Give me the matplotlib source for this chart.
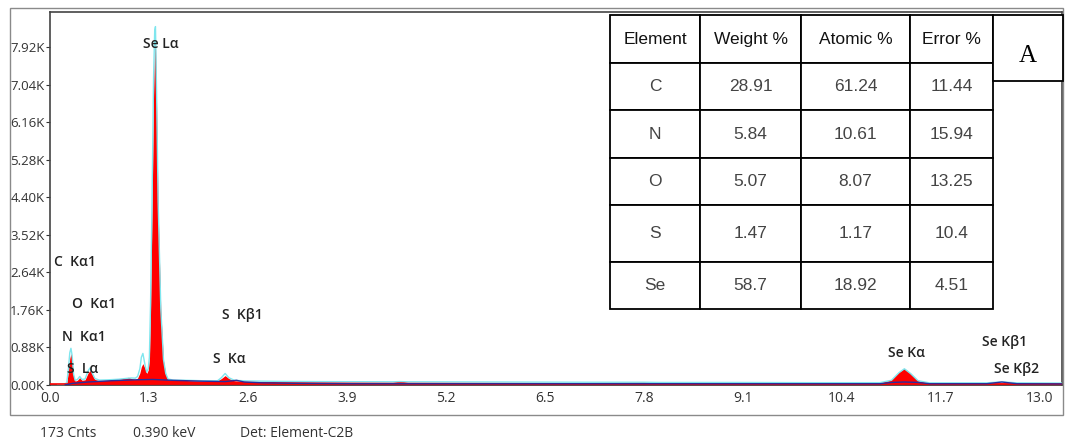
import matplotlib.pyplot as plt
from matplotlib.patches import Rectangle

# EDS spectrum (keV, counts)
energy = [0.10, 0.18, 0.22, 0.24, 0.26, 0.275, 0.29, 0.31, 0.33, 0.36, 0.39, 0.42, 0.46,
          0.50, 0.525, 0.55, 0.59, 0.65, 0.75, 0.90, 0.98, 1.03, 1.07, 1.12, 1.15, 1.18,
          1.20, 1.22, 1.25, 1.27, 1.29, 1.305, 1.32, 1.34, 1.36, 1.375, 1.385, 1.40, 1.42,
          1.455, 1.49, 1.52, 1.55, 1.62, 1.8, 2.0, 2.2, 2.25, 2.30, 2.35, 2.42, 2.6, 3.0,
          3.5, 4.5, 4.6, 4.7, 6.0, 7.0, 7.8, 8.0, 9.0, 10.0, 10.9, 11.05, 11.15, 11.22,
          11.30, 11.40, 11.55, 12.3, 12.5, 12.7, 13.29]
counts = [0, 0, 40, 300, 620, 740, 560, 200, 90, 110, 175, 110, 120,
          280, 340, 260, 130, 100, 110, 130, 160, 180, 150, 130, 160, 280,
          430, 500, 380, 270, 350, 600, 1750, 4100, 6800, 8000, 8000, 6500, 4100,
          1750, 570, 250, 130, 110, 105, 100, 100, 150, 220, 150, 100, 90, 80,
          75, 70, 90, 70, 65, 60, 80, 60, 55, 55, 55, 120, 300, 390,
          280, 100, 50, 45, 50, 45, 40]
fit = [10, 15, 50, 350, 760, 860, 700, 250, 110, 130, 200, 130, 140,
       330, 400, 300, 150, 115, 120, 135, 150, 160, 165, 160, 200, 380,
       650, 740, 450, 300, 380, 650, 1850, 4300, 7200, 8300, 8400, 6800, 4300,
       1800, 600, 270, 140, 115, 110, 100, 100, 170, 270, 170, 110, 95, 85,
       80, 75, 80, 75, 70, 65, 65, 60, 60, 55, 55, 110, 290, 380,
       270, 100, 50, 50, 75, 50, 45]
bkg_energy = [0.2, 0.3, 0.5, 0.8, 1.1, 1.35, 1.6, 2.0, 2.3, 2.45, 2.55, 2.8, 3.2, 4.0,
              10.9, 11.05, 11.22, 11.4, 11.55, 12.3, 12.5, 12.7, 13.29]
bkg_counts = [0, 40, 70, 100, 120, 130, 110, 90, 80, 110, 70, 50, 40, 30,
              30, 60, 70, 60, 30, 30, 70, 30, 25]

peak_labels = ["Se L\u03b1", "C  K\u03b11", "O  K\u03b11", "N  K\u03b11", "S  L\u03b1",
               "S  K\u03b21", "S  K\u03b1", "Se K\u03b1", "Se K\u03b21", "Se K\u03b22"]
label_x = [1.22, 0.05, 0.29, 0.16, 0.22, 2.26, 2.14, 11.0, 12.24, 12.40]
label_y = [7990, 2875, 1890, 1115, 364, 1630, 600, 740, 1000, 364]

xticks = [0.0, 1.3, 2.6, 3.9, 5.2, 6.5, 7.8, 9.1, 10.4, 11.7, 13.0]
yticks = [0, 880, 1760, 2640, 3520, 4400, 5280, 6160, 7040, 7920]

table_header = ["Element", "Weight %", "Atomic %", "Error %"]
elements = ["C", "N", "O", "S", "Se"]
weight = ["28.91", "5.84", "5.07", "1.47", "58.7"]
atomic = ["61.24", "10.61", "8.07", "1.17", "18.92"]
error = ["11.44", "15.94", "13.25", "10.4", "4.51"]

W, H = 1067, 444
fig = plt.figure(figsize=(W / 100, H / 100), dpi=100)

# outer grey frame
fig.patches.append(Rectangle((10 / W, 1 - 415 / H), 1053 / W, 407 / H, transform=fig.transFigure,
                             fill=False, edgecolor='#8a8a8a', linewidth=1.0))

ax = fig.add_axes([50 / W, 1 - 385 / H, 1012 / W, 372.5 / H])
ax.fill_between(energy, counts, color='#ff0000', linewidth=0, zorder=2)
ax.plot(energy, fit, color='#7fe6ee', linewidth=1.0, zorder=3)
ax.plot(bkg_energy, bkg_counts, color='#2b2b9a', linewidth=1.0, zorder=4)
ax.axhline(15, color='#ff0000', linewidth=1.2, zorder=3)

for lab, x, y in zip(peak_labels, label_x, label_y):
    ax.text(x, y, lab, fontsize=10, fontweight='semibold', family='Open Sans',
            va='center', ha='left', color='#222222', zorder=5)

ax.set_xlim(0, 13.29)
ax.set_ylim(0, 8730)
ax.set_xticks(xticks)
ax.set_xticklabels([f"{v:.1f}" for v in xticks], family='Open Sans', fontsize=10)
ax.set_yticks(yticks)
ax.set_yticklabels([f"{v / 1000:.2f}K" for v in yticks], family='Open Sans', fontsize=9.5)
ax.tick_params(axis='x', length=0, pad=4, colors='#333333')
ax.tick_params(axis='y', length=3, width=0.8, pad=1, colors='#333333')
for s in ax.spines.values():
    s.set_color('#444444')
    s.set_linewidth(1.2)

# footer text
foot = dict(family='Open Sans', fontsize=10, va='center', color='#333333')
fig.text(40 / W, 1 - 433 / H, "173 Cnts", **foot)
fig.text(133 / W, 1 - 433 / H, "0.390 keV", **foot)
fig.text(240 / W, 1 - 433 / H, "Det: Element-C2B", **foot)

# composition table
tab_ax = fig.add_axes([610 / W, 1 - 309 / H, 383 / W, 294 / H])
tab_ax.axis('off')
cells = [[e, w, a, r] for e, w, a, r in zip(elements, weight, atomic, error)]
tab = tab_ax.table(cellText=cells, colLabels=table_header, cellLoc='center',
                   colWidths=[90, 101, 109, 83], bbox=[0, 0, 1, 1])
tab.auto_set_font_size(False)
row_h = [48, 47, 48, 47, 57, 47]
for (r, c), cell in tab.get_celld().items():
    cell.set_height(row_h[r])
    cell.set_linewidth(1.3)
    cell.set_edgecolor('black')
    cell.set_facecolor('white')
    txt = cell.get_text()
    txt.set_fontsize(12.5)
    txt.set_family('Liberation Sans')
    txt.set_color('#111111' if r == 0 else '#444444')

# "A" panel tag
fig.patches.append(Rectangle((993 / W, 1 - 81 / H), 70 / W, 66 / H, transform=fig.transFigure,
                             facecolor='white', edgecolor='black', linewidth=1.3, zorder=5))
fig.text(1028 / W, 1 - 56 / H, "A", family='Liberation Serif', fontsize=18, ha='center', va='center', zorder=6)

fig.savefig('out.png', dpi=100)
